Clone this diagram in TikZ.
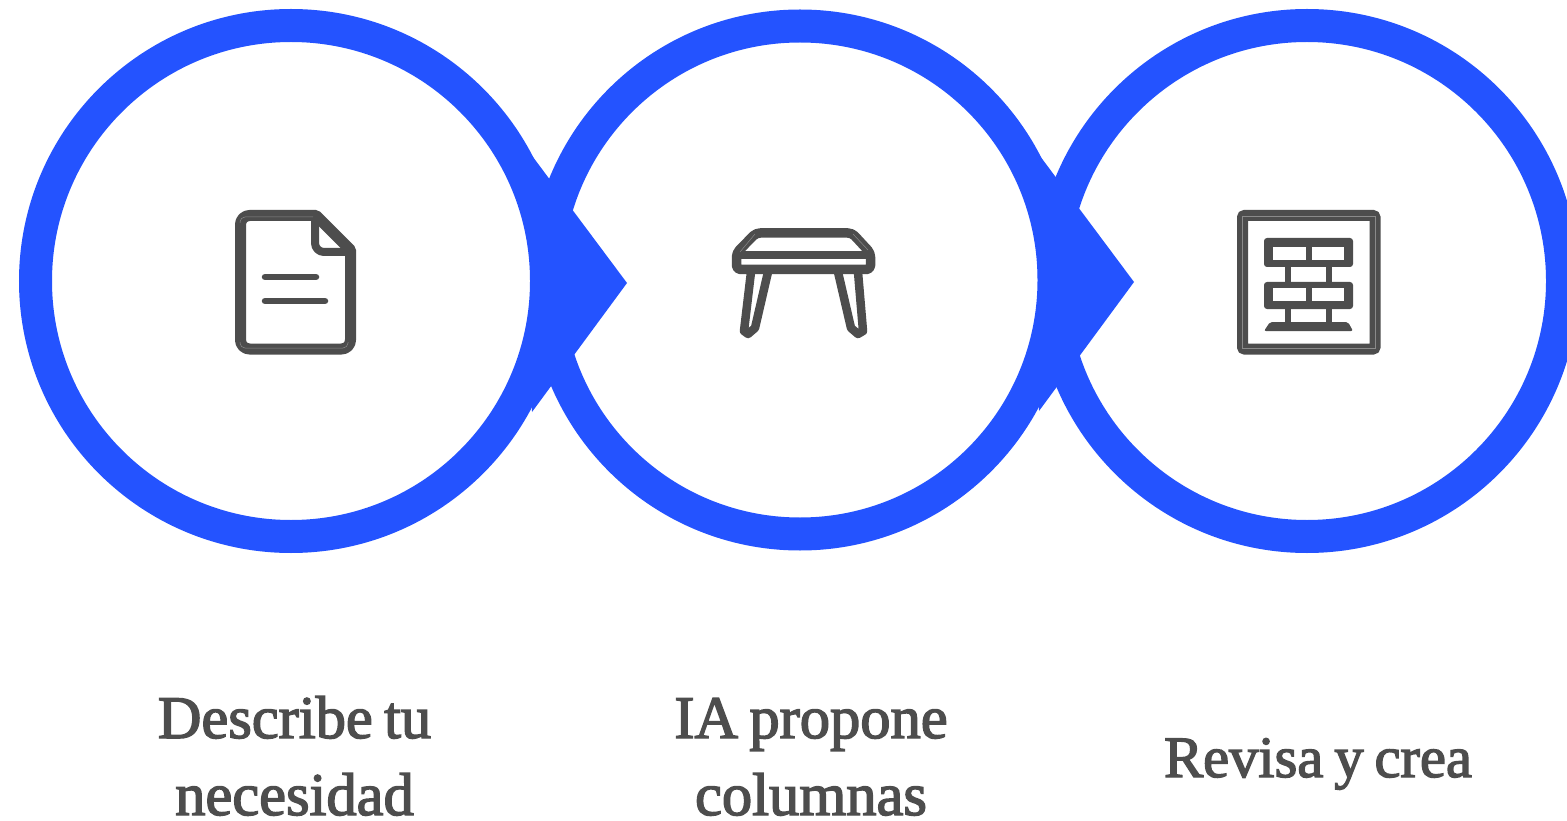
\documentclass[tikz,border=0pt]{standalone}
\usepackage{fontspec}
\setmainfont{Liberation Serif}[FakeBold=2.4,WordSpace=0.75]
\definecolor{ringblue}{HTML}{2453FF}
\definecolor{icongray}{HTML}{4D4D4D}
\definecolor{iconlight}{HTML}{8A8A8A}
\tikzset{
ringnode/.style={circle, draw=ringblue, fill=white, line width=33pt, inner sep=0pt, outer sep=0pt},
chevron/.style={fill=ringblue, draw=none},
iconline/.style={draw=icongray, line width=#1, line join=round, line cap=round},
iconshine/.style={draw=iconlight, line width=0.5pt},
caption/.style={text=icongray, anchor=base, inner sep=0pt, font=\fontsize{60.5}{77}\selectfont}
}
\begin{document}
\begin{tikzpicture}[x=1pt,y=-1pt]
\useasboundingbox (0,0) rectangle (1567,821);
\clip (0,0) rectangle (1567,821);
\node[ringnode, minimum size=511pt] (ringc) at (1307,281) {};
\node[ringnode, minimum size=508pt] (ringb) at (800,280) {};
\node[ringnode, minimum size=511pt] (ringa) at (291,281) {};
\fill[chevron] (530,153) -- (627,283) -- (532,412) -- cycle;
\fill[chevron] (1037,152) -- (1134,282) -- (1039,411) -- cycle;
% document
\draw[iconline=11pt, rounded corners=9pt] (316,215.5) -- (240.5,215.5) -- (240.5,349) -- (350.5,349) [sharp corners] -- (350.5,250) -- cycle;
\draw[iconline=8pt, rounded corners=9pt] (315,218) -- (315,252) -- (348,252);
\draw[iconline=6.5pt] (265,277) -- (316,277);
\draw[iconline=6.5pt] (265,301) -- (325,301);
\draw[iconshine, rounded corners=5pt] (240,223) -- (240,217) -- (313,217);
\draw[iconshine, rounded corners=5pt] (240,342) -- (240,348) -- (348,348) -- (348,342);
% table
\draw[iconline=9.5pt, rounded corners=4pt] (756,233) -- (852,233) -- (870.5,253) -- (870.5,269.5) -- (736.5,269.5) -- (736.5,253) -- cycle;
\draw[iconline=8pt] (738,255) -- (869,255);
\draw[iconline=8.5pt] (751,272) -- (744,331) -- (748,334) -- (755,328) -- (768,272);
\draw[iconline=8.5pt] (858,272) -- (863,331) -- (858,334) -- (851,328) -- (838,272);
\draw[iconshine] (740,252) -- (755,234);
\draw[iconshine] (853,234) -- (868,250);
% bricks
\draw[iconline=11pt, line cap=butt, rounded corners=1pt] (1242.5,215.5) rectangle (1375,349);
\draw[iconshine] (1242,216) rectangle (1375,348);
\fill[icongray, rounded corners=3pt] (1264,238) rectangle (1353,267);
\fill[icongray, rounded corners=3pt] (1264,282) rectangle (1353,309);
\fill[white] (1273,247) rectangle (1306,260);
\fill[white] (1312,247) rectangle (1344,260);
\fill[white] (1273,288) rectangle (1306,301);
\fill[white] (1312,288) rectangle (1344,301);
\foreach \x in {1288,1329}
{
\fill[icongray] (\x-3,267) rectangle (\x+3,282);
\fill[icongray] (\x-3,309) rectangle (\x+3,324);
}
\fill[icongray, rounded corners=2pt] (1270,322) -- (1348,322) -- (1353,331) -- (1264,331) -- cycle;
% captions
\node[caption] (textaone) at (294.5,738) {Describe tu};
\node[caption] (textatwo) at (294.5,815) {necesidad};
\node[caption] (textbone) at (811,738) {IA propone};
\node[caption] (textbtwo) at (811,815) {columnas};
\node[caption, font=\fontsize{58.5}{77}\selectfont] (textc) at (1318,777) {Revisa y crea};
\end{tikzpicture}
\end{document}
